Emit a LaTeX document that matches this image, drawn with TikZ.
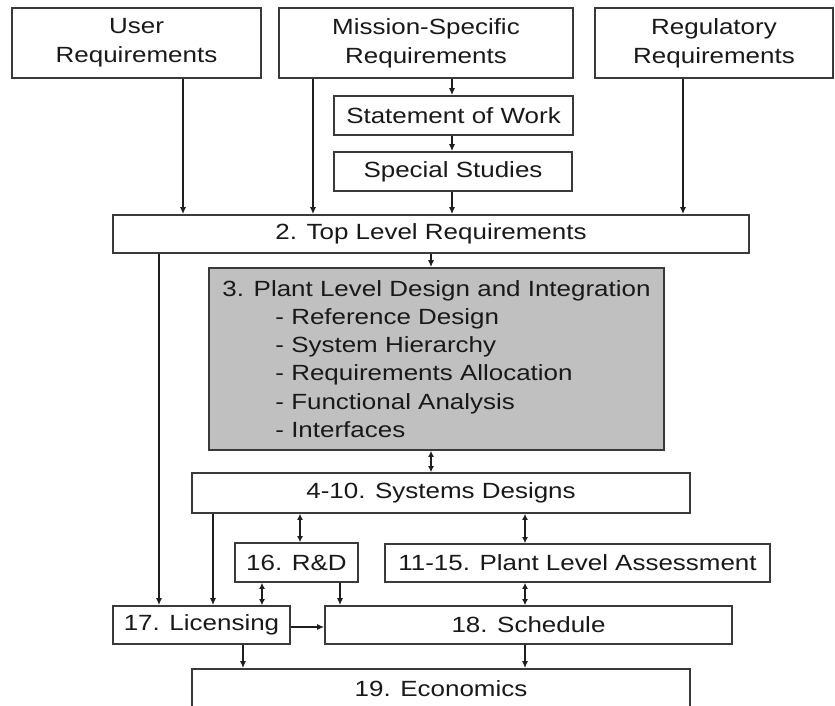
\documentclass[tikz,border=0pt]{standalone}
\usepackage{fontspec}
\setmainfont{Liberation Sans}[FakeStretch=1.18]
\usetikzlibrary{arrows.meta}
\definecolor{edgec}{HTML}{3A3A3A}
\definecolor{plantfill}{HTML}{C0C0C0}
\definecolor{arrc}{HTML}{1E1E1E}
\begin{document}
\begin{tikzpicture}[x=1pt,y=-1pt,
  box/.style={draw=edgec, line width=1.7pt, rectangle, inner sep=0pt, align=center,
    font=\fontsize{22}{29}\selectfont, fill=white, text=black!90},
  plantbox/.style={box, fill=plantfill, align=left, font=\fontsize{22}{28.2}\selectfont},
  arr/.style={draw=arrc, line width=1.3pt, -{Latex[length=7pt,width=6pt]}},
  darr/.style={draw=arrc, line width=1.3pt, {Latex[length=6pt,width=6pt]}-{Latex[length=6pt,width=6pt]}},
]
\fill[white] (0,0) rectangle (835,706);
\useasboundingbox (0,0) rectangle (835,706);

% boxes
\node[box, minimum width=249, minimum height=70] (user) at (136.5,43) {User\\Requirements};
\node[box, minimum width=294, minimum height=70] (mission) at (426,43) {Mission-Specific\\Requirements};
\node[box, minimum width=238, minimum height=70] (reg) at (714,43) {Regulatory\\Requirements};
\node[box, minimum width=239, minimum height=39] (sow) at (453.5,115.5) {Statement of Work};
\node[box, minimum width=238, minimum height=39] (ss) at (453,171.5) {Special Studies};
\node[box, minimum width=636, minimum height=38] (top) at (431,234) {2. Top Level Requirements};
\node[plantbox, minimum width=455, minimum height=182] (plant) at (436.5,359)
  {3. Plant Level Design and Integration\\
   \hspace*{53pt}- Reference Design\\
   \hspace*{53pt}- System Hierarchy\\
   \hspace*{53pt}- Requirements Allocation\\
   \hspace*{53pt}- Functional Analysis\\
   \hspace*{53pt}- Interfaces};
\node[box, minimum width=498, minimum height=40] (sd) at (441,493) {4-10. Systems Designs};
\node[box, minimum width=123, minimum height=39] (rd) at (296.5,562.5) {16. R\&D};
\node[box, minimum width=385, minimum height=38] (pla) at (577.5,563) {11-15. Plant Level Assessment};
\node[box, minimum width=177, minimum height=38] (lic) at (201.5,625) {17. Licensing};
\node[box, minimum width=407, minimum height=38] (sch) at (528.5,625) {18. Schedule};
\node[box, minimum width=498, minimum height=40] (eco) at (441,689) {19. Economics};

% x positions of connectors
\coordinate (xu) at (183,0);
\coordinate (xm) at (313,0);
\coordinate (xs) at (452,0);
\coordinate (xr) at (683,0);
\coordinate (xp) at (431,0);
\coordinate (xl) at (159,0);
\coordinate (xd) at (213,0);
\coordinate (xrd) at (300,0);
\coordinate (xa) at (525,0);
\coordinate (xrl) at (262,0);
\coordinate (xrs) at (340,0);
\coordinate (xle) at (243,0);
\coordinate (yls) at (0,627);

% connectors
\draw[arr] (user.south -| xu) -- (top.north -| xu);
\draw[arr] (mission.south -| xm) -- (top.north -| xm);
\draw[arr] (mission.south -| xs) -- (sow.north -| xs);
\draw[arr] (sow.south -| xs) -- (ss.north -| xs);
\draw[arr] (ss.south -| xs) -- (top.north -| xs);
\draw[arr] (reg.south -| xr) -- (top.north -| xr);
\draw[arr] (top.south -| xp) -- (plant.north -| xp);
\draw[darr] (plant.south -| xp) -- (sd.north -| xp);
\draw[arr] (top.south -| xl) -- (lic.north -| xl);
\draw[arr] (sd.south -| xd) -- (lic.north -| xd);
\draw[darr] (sd.south -| xrd) -- (rd.north -| xrd);
\draw[darr] (sd.south -| xa) -- (pla.north -| xa);
\draw[darr] (rd.south -| xrl) -- (lic.north -| xrl);
\draw[arr] (rd.south -| xrs) -- (sch.north -| xrs);
\draw[darr] (pla.south -| xa) -- (sch.north -| xa);
\draw[arr] (lic.east |- yls) -- (sch.west |- yls);
\draw[arr] (lic.south -| xle) -- (eco.north -| xle);
\draw[arr] (sch.south -| xa) -- (eco.north -| xa);
\end{tikzpicture}
\end{document}
